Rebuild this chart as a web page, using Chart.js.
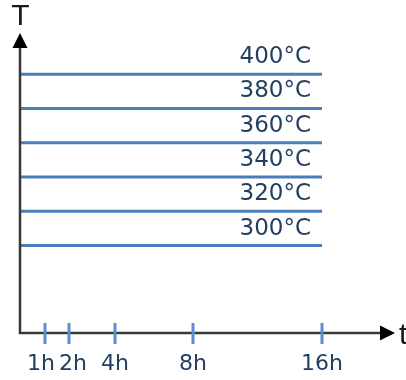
<!DOCTYPE html>
<html>
<head>
<meta charset="utf-8">
<script src="https://cdn.jsdelivr.net/npm/chart.js@4/dist/chart.umd.min.js"></script>
<style>
  html, body { margin: 0; padding: 0; background: #ffffff; }
  #wrap { width: 406px; height: 380px; position: relative; }
</style>
</head>
<body>
<div id="wrap"><canvas id="c"></canvas></div>
<script>
// Annealing schedule: holding temperatures and the sampled holding times.
const temperatures = [300, 320, 340, 360, 380, 400];
const tempUnit = '°C';
const timeLabels = ['1h', '2h', '4h', '8h', '16h'];
// Position of each time mark along the (schematic, non-linear) time axis.
const timePositions = [25, 49, 95, 173, 302];

const lineBlue = '#4a7ebb';
const tickBlue = '#5b8dd0';
const textBlue = '#223f63';
const axisDark = '#383838';

const lineEnd = timePositions[timePositions.length - 1];

const datasets = temperatures.map(t => ({
  label: t + tempUnit,
  data: [{ x: 0, y: t }, { x: lineEnd, y: t }],
  borderColor: lineBlue,
  borderWidth: 3,
  pointRadius: 0,
  fill: false,
  clip: false
}));

// Spread label centres apart so neighbouring labels keep a minimum gap.
function spreadLabels(centres, widths, gap) {
  const out = centres.slice();
  for (let pass = 0; pass < 10; pass++) {
    for (let i = 0; i < out.length - 1; i++) {
      const need = (widths[i] + widths[i + 1]) / 2 + gap;
      const have = out[i + 1] - out[i];
      if (have < need) {
        const push = (need - have) / 2;
        out[i] -= push;
        out[i + 1] += push;
      }
    }
  }
  return out;
}

// Axes with arrow heads, blue time marks and all text labels.
const schematicAxes = {
  id: 'schematicAxes',
  afterDatasetsDraw(chart) {
    const ctx = chart.ctx;
    const xs = chart.scales.x, ys = chart.scales.y;
    const x0 = xs.getPixelForValue(xs.min);
    const y0 = ys.getPixelForValue(ys.min);
    const xTip = xs.getPixelForValue(xs.max);
    const yTip = ys.getPixelForValue(ys.max);
    ctx.save();

    // axis lines
    ctx.strokeStyle = axisDark;
    ctx.lineWidth = 2.5;
    ctx.lineCap = 'butt';
    ctx.beginPath();
    ctx.moveTo(x0, yTip + 12);
    ctx.lineTo(x0, y0);
    ctx.lineTo(xTip - 12, y0);
    ctx.stroke();

    // arrow heads
    ctx.fillStyle = '#000000';
    ctx.beginPath();
    ctx.moveTo(x0, yTip);
    ctx.lineTo(x0 - 7.5, yTip + 15);
    ctx.lineTo(x0 + 7.5, yTip + 15);
    ctx.closePath();
    ctx.fill();
    ctx.beginPath();
    ctx.moveTo(xTip, y0);
    ctx.lineTo(xTip - 15, y0 - 7.5);
    ctx.lineTo(xTip - 15, y0 + 7.5);
    ctx.closePath();
    ctx.fill();

    // axis names
    ctx.fillStyle = '#1a1a1a';
    ctx.font = '30px "Liberation Sans", Arial, sans-serif';
    ctx.textAlign = 'center';
    ctx.textBaseline = 'alphabetic';
    ctx.fillText('T', x0 + 0.5, 25);
    ctx.textAlign = 'left';
    ctx.fillText('t', xTip + 4, y0 + 11);

    // time marks
    ctx.strokeStyle = tickBlue;
    ctx.lineWidth = 3;
    const tickPx = timePositions.map(p => xs.getPixelForValue(p));
    tickPx.forEach(px => {
      ctx.beginPath();
      ctx.moveTo(px, y0 - 10);
      ctx.lineTo(px, y0 + 11);
      ctx.stroke();
    });

    // time labels
    ctx.fillStyle = textBlue;
    ctx.font = '22px "DejaVu Sans", sans-serif';
    ctx.textAlign = 'center';
    ctx.textBaseline = 'middle';
    const widths = timeLabels.map(s => ctx.measureText(s).width);
    const centres = spreadLabels(tickPx, widths, 4);
    timeLabels.forEach((s, i) => ctx.fillText(s, centres[i], y0 + 31));

    // temperature labels above each line
    ctx.font = '23px "DejaVu Sans", sans-serif';
    ctx.textAlign = 'right';
    const labelRight = xs.getPixelForValue(lineEnd) - 11;
    temperatures.forEach(t => {
      const py = ys.getPixelForValue(t);
      ctx.fillText(t + tempUnit, labelRight, py - 17);
    });

    ctx.restore();
  }
};

new Chart(document.getElementById('c'), {
  type: 'line',
  data: { datasets },
  options: {
    responsive: true,
    maintainAspectRatio: false,
    animation: false,
    layout: { padding: { left: 20, right: 11, top: 33, bottom: 47 } },
    plugins: { legend: { display: false }, tooltip: { enabled: false } },
    scales: {
      x: { type: 'linear', min: 0, max: 375, display: false },
      y: { type: 'linear', min: 249, max: 424, display: false }
    }
  },
  plugins: [schematicAxes]
});
</script>
</body>
</html>
